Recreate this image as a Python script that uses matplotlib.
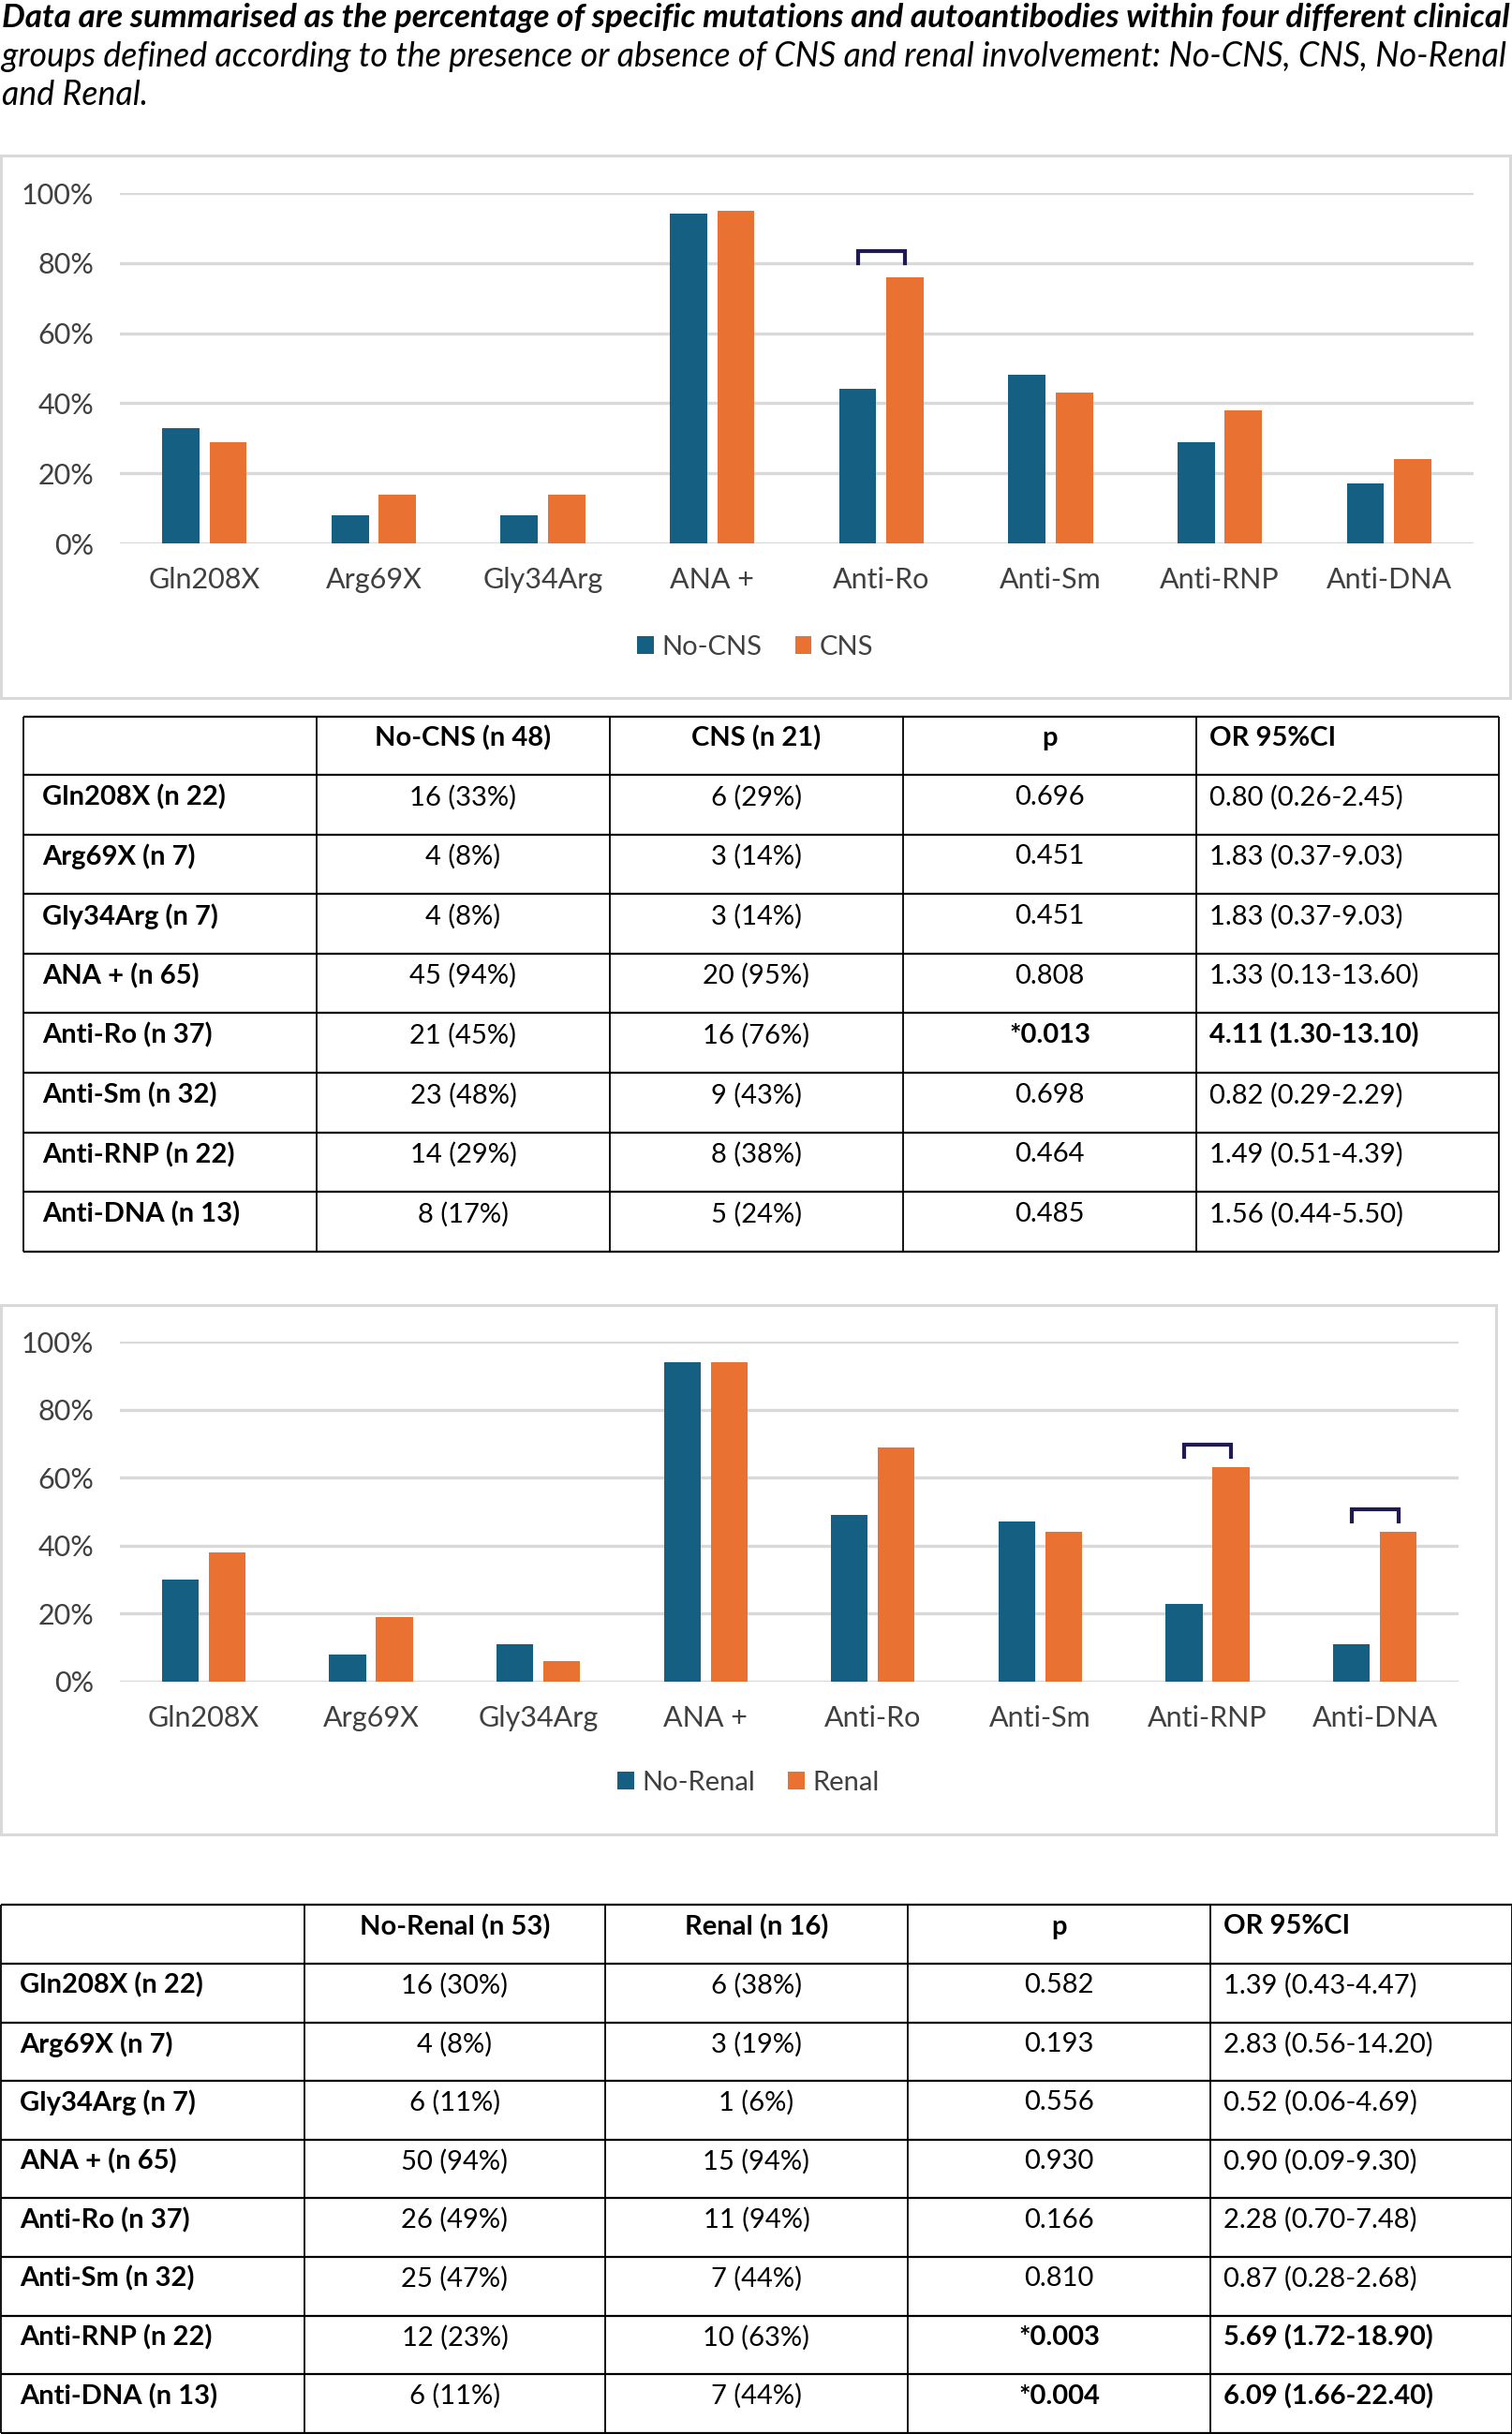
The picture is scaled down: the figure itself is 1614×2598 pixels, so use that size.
import numpy as np
import matplotlib
matplotlib.use("Agg")
import matplotlib.pyplot as plt
from matplotlib.patches import Rectangle

W, H = 1615, 2598
DPI = 100
FONT = "Lato"
plt.rcParams['font.family'] = [FONT, 'DejaVu Sans']

# ---------------- data ----------------
categories = ["Gln208X", "Arg69X", "Gly34Arg", "ANA +", "Anti-Ro", "Anti-Sm", "Anti-RNP", "Anti-DNA"]
no_cns = [33, 8, 8, 94, 44, 48, 29, 17]
cns = [29, 14, 14, 95, 76, 43, 38, 24]
no_renal = [30, 8, 11, 94, 49, 47, 23, 11]
renal = [38, 19, 6, 94, 69, 44, 63, 44]
yticks = [0, 20, 40, 60, 80, 100]
cns_brackets = [("Anti-Ro", 80, 83.5)]
renal_brackets = [("Anti-RNP", 66, 69.8), ("Anti-DNA", 47, 50.6)]

caption = ["Data are summarised as the percentage of specific mutations and autoantibodies within four different clinical",
           "groups defined according to the presence or absence of CNS and renal involvement: No-CNS, CNS, No-Renal",
           "and Renal."]

row_labels = ["Gln208X (n 22)", "Arg69X (n 7)", "Gly34Arg (n 7)", "ANA + (n 65)",
              "Anti-Ro (n 37)", "Anti-Sm (n 32)", "Anti-RNP (n 22)", "Anti-DNA (n 13)"]

t1_header = ["", "No-CNS (n 48)", "CNS (n 21)", "p", "OR 95%CI"]
t1_nocns = ["16 (33%)", "4 (8%)", "4 (8%)", "45 (94%)", "21 (45%)", "23 (48%)", "14 (29%)", "8 (17%)"]
t1_cns = ["6 (29%)", "3 (14%)", "3 (14%)", "20 (95%)", "16 (76%)", "9 (43%)", "8 (38%)", "5 (24%)"]
t1_p = ["0.696", "0.451", "0.451", "0.808", "*0.013", "0.698", "0.464", "0.485"]
t1_or = ["0.80 (0.26-2.45)", "1.83 (0.37-9.03)", "1.83 (0.37-9.03)", "1.33 (0.13-13.60)",
         "4.11 (1.30-13.10)", "0.82 (0.29-2.29)", "1.49 (0.51-4.39)", "1.56 (0.44-5.50)"]

t2_header = ["", "No-Renal (n 53)", "Renal (n 16)", "p", "OR 95%CI"]
t2_norenal = ["16 (30%)", "4 (8%)", "6 (11%)", "50 (94%)", "26 (49%)", "25 (47%)", "12 (23%)", "6 (11%)"]
t2_renal = ["6 (38%)", "3 (19%)", "1 (6%)", "15 (94%)", "11 (94%)", "7 (44%)", "10 (63%)", "7 (44%)"]
t2_p = ["0.582", "0.193", "0.556", "0.930", "0.166", "0.810", "*0.003", "*0.004"]
t2_or = ["1.39 (0.43-4.47)", "2.83 (0.56-14.20)", "0.52 (0.06-4.69)", "0.90 (0.09-9.30)",
         "2.28 (0.70-7.48)", "0.87 (0.28-2.68)", "5.69 (1.72-18.90)", "6.09 (1.66-22.40)"]

BLUE = "#156082"
ORANGE = "#E97132"
GRID = "#D9D9D9"
TXT = "#404040"
NAVY = "#1F1A4F"

fig = plt.figure(figsize=(W / DPI, H / DPI), dpi=DPI)
bg = fig.add_axes([0, 0, 1, 1])
bg.set_xlim(0, W)
bg.set_ylim(H, 0)
bg.axis("off")
bg.set_zorder(0)


def frac(l, t, r, b):
    return [l / W, 1 - b / H, (r - l) / W, (b - t) / H]


# ---------------- caption ----------------
renderer = fig.canvas.get_renderer()


def fit_text(x, y, s, target_w, **kw):
    t = bg.text(x, y, s, fontsize=20, va="center", ha="left", **kw)
    w = t.get_window_extent(renderer).width
    fs = 20 * target_w / w
    t.set_fontsize(fs)
    return fs

fit_text(2, 19, caption[0], 1610, style="italic", fontweight="bold", color="black")
fs2 = fit_text(2, 60, caption[1], 1608, style="italic", color="black")
bg.text(2, 101, caption[2], fontsize=fs2, style="italic", va="center", ha="left", color="black")


# ---------------- charts ----------------
def chart(box, plot, a, b, names, brackets, legend_y):
    bl, bt, br, bb = box
    bg.add_patch(Rectangle((bl, bt), br - bl, bb - bt, fill=False, edgecolor=GRID, lw=2.2))
    ax = fig.add_axes(frac(*plot))
    ax.set_zorder(1)
    ax.patch.set_alpha(0)
    x = np.arange(len(categories))
    bw = 0.22
    off = 0.14
    h1 = ax.bar(x - off, a, bw, color=BLUE, zorder=3, label=names[0])
    h2 = ax.bar(x + off, b, bw, color=ORANGE, zorder=3, label=names[1])
    ax.set_xlim(-0.5, len(categories) - 0.5)
    ax.set_ylim(0, 100)
    ax.set_yticks(yticks)
    ax.set_yticklabels([f"{v}%" for v in yticks])
    ax.set_xticks(x)
    ax.set_xticklabels(categories)
    ax.tick_params(axis="both", length=0, labelsize=22, colors=TXT)
    ax.tick_params(axis="x", pad=18)
    ax.tick_params(axis="y", pad=20)
    for s in ax.spines.values():
        s.set_visible(False)
    ax.yaxis.grid(True, color=GRID, lw=2.4, zorder=0)
    ax.set_axisbelow(True)
    for cat, lo, hi in brackets:
        i = categories.index(cat)
        ax.plot([i - off, i - off, i + off, i + off], [lo, hi, hi, lo], color=NAVY, lw=3,
                zorder=4, solid_joinstyle="miter", clip_on=False)
    fig.legend(handles=[h1, h2], labels=names, loc="center", ncol=2,
               bbox_to_anchor=((bl + br) / 2 / W, 1 - legend_y / H),
               frameon=False, fontsize=21, handlelength=0.6, handleheight=0.6,
               handletextpad=0.3, columnspacing=1.2, labelcolor=TXT)
    return ax

chart((1, 166, 1612, 745), (128, 206, 1573, 580), no_cns, cns, ["No-CNS", "CNS"], cns_brackets, 691)
chart((1, 1393, 1597, 1958), (128, 1432, 1557, 1795), no_renal, renal, ["No-Renal", "Renal"], renal_brackets, 1903)


# ---------------- tables ----------------
def table(xe, top, hh, rh, header, c1, c2, pv, orv, pad0, fs=21, dy=-8):
    n = len(row_labels)
    bottom = top + hh + n * rh
    ys = [top, top + hh] + [top + hh + (k + 1) * rh for k in range(n)]
    for y in ys:
        bg.plot([xe[0], xe[-1]], [y, y], color="black", lw=1.6, solid_capstyle="butt")
    for x in xe:
        bg.plot([x, x], [top, bottom], color="black", lw=1.3, solid_capstyle="butt")
    yc = top + hh / 2 + dy
    for j in (1, 2, 3):
        bg.text((xe[j] + xe[j + 1]) / 2, yc, header[j], ha="center", va="center",
                fontsize=fs, fontweight="bold")
    bg.text(xe[4] + 14, yc, header[4], ha="left", va="center", fontsize=fs, fontweight="bold")
    for k in range(n):
        yc = top + hh + (k + 0.5) * rh + dy
        sig = pv[k].startswith("*")
        bg.text(xe[0] + pad0, yc, row_labels[k], ha="left", va="center", fontsize=fs, fontweight="bold")
        bg.text((xe[1] + xe[2]) / 2, yc, c1[k], ha="center", va="center", fontsize=fs)
        bg.text((xe[2] + xe[3]) / 2, yc, c2[k], ha="center", va="center", fontsize=fs)
        bg.text((xe[3] + xe[4]) / 2, yc, pv[k], ha="center", va="center", fontsize=fs,
                fontweight="bold" if sig else "normal")
        bg.text(xe[4] + 14, yc, orv[k], ha="left", va="center", fontsize=fs,
                fontweight="bold" if sig else "normal")

table([25, 338, 651, 964, 1277, 1600], 765, 62, 63.6, t1_header, t1_nocns, t1_cns, t1_p, t1_or, 20)
table([1, 325, 646, 969, 1292, 1614], 2033, 63, 62.6, t2_header, t2_norenal, t2_renal, t2_p, t2_or, 20)

fig.savefig("out.png", dpi=DPI)
